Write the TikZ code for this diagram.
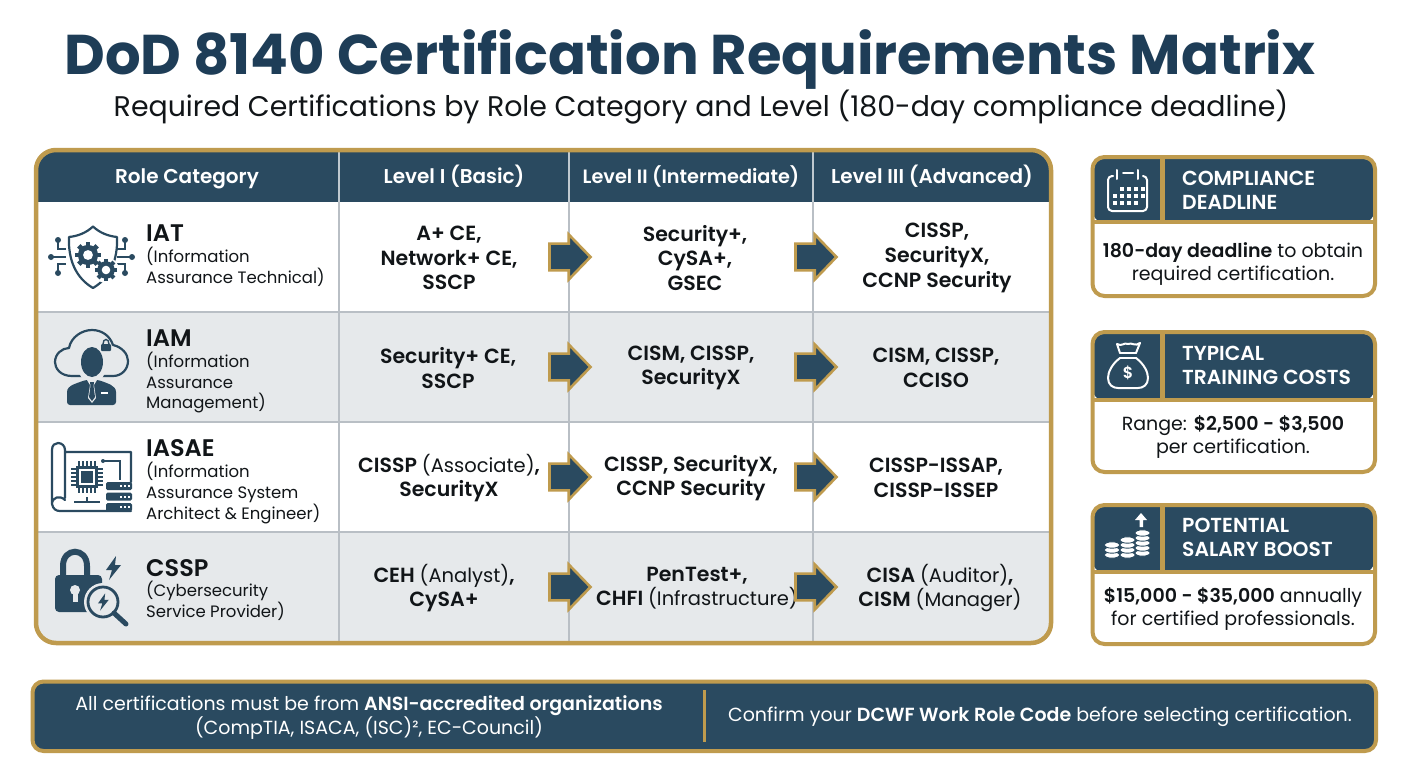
\documentclass[tikz,border=0pt]{standalone}
\usepackage{fontspec}
\setmainfont{Poppins}[BoldFont={Poppins SemiBold}]
\newfontfamily\titlefont{Poppins}
\usetikzlibrary{shapes.arrows,calc}
\definecolor{navy}{HTML}{2A4A60}
\definecolor{titlenavy}{HTML}{1E3D57}
\definecolor{gold}{HTML}{BF9B4E}
\definecolor{rowgrey}{HTML}{E6E9EB}
\definecolor{rule}{HTML}{B9BFC5}
\definecolor{ink}{HTML}{111518}
\tikzset{
  hdr/.style={text=white,anchor=center,inner sep=0pt},
  role/.style={anchor=north west,align=left,inner sep=0pt,text=ink,font=\fontsize{16.5}{20.8}\selectfont},
  cell/.style={align=center,inner sep=0pt,text=ink,font=\fontsize{20.5}{24.6}\selectfont\bfseries},
  flow/.style={single arrow,draw=gold,fill=navy,line width=2.6pt,minimum height=41pt,minimum width=45pt,single arrow head extend=9pt,single arrow tip angle=92,inner xsep=0pt,inner ysep=12pt},
  cardhead/.style={text=white,anchor=west,align=left,inner sep=0pt,font=\fontsize{20.3}{24}\selectfont\bfseries},
  cardbody/.style={align=center,inner sep=0pt,text=ink,font=\fontsize{19}{23.4}\selectfont},
  barText/.style={align=center,inner sep=0pt,text=white,font=\fontsize{19}{24}\selectfont},
  ic/.style={draw=navy,line width=2.2pt,line cap=round,line join=round},
  icw/.style={draw=white,line width=2pt,line cap=round,line join=round}
}
\newcommand\rolehead[1]{{\fontsize{24}{24}\selectfont\bfseries #1}}
\newcommand\lt[1]{{\mdseries\fontsize{19.5}{24.6}\selectfont #1}}
\newcommand\mygear[3]{%x,y,r
  \foreach \a in {0,45,...,315}{\draw[navy,line width=#3*0.42pt] ($(#1,#2)+(\a:#3*1.18pt)$) -- ($(#1,#2)+(\a:#3*0.7pt)$);}
  \fill[navy] (#1,#2) circle[radius=#3*0.92pt];
  \fill[white] (#1,#2) circle[radius=#3*0.45pt];}
\newcommand\mybolt[3]{%x,y,color
  \fill[#3] (#1+3,#2-12) -- (#1-7,#2+2) -- (#1-1,#2+2) -- (#1-4,#2+12) -- (#1+8,#2-3) -- (#1+2,#2-3) -- cycle;}
\newcommand\mycard[4]{%name,top,bottom,headbottom
  \fill[navy,rounded corners=10pt] (1093,#2+2) rectangle (1374,#4);
  \fill[gold] (1093,#4-2) rectangle (1374,#4+2);
  \fill[gold] (1160,#2) rectangle (1165,#4);
  \draw[gold,line width=4pt,rounded corners=12pt] (1092.5,#2) rectangle (1375,#3);
}
\newcommand\mycoins[2]{%x,list of y from bottom to top
  \foreach \y in {#2}{\fill[white,draw=navy,line width=0.9pt] (#1,\y) ellipse[x radius=7.6pt,y radius=3.2pt];}
}
\begin{document}
\begin{tikzpicture}[x=1pt,y=-1pt]
\useasboundingbox (0,0) rectangle (1408,768);
\fill[white] (0,0) rectangle (1408,768);
% title
\node[inner sep=0pt,text=titlenavy,font=\titlefont\fontsize{56}{60}\selectfont\bfseries] (title) at (690,59.5) {DoD 8140 Certification Requirements Matrix};
\node[inner sep=0pt,text=ink,font=\fontsize{28.4}{32}\selectfont] (subtitle) at (701,107) {Required Certifications by Role Category and Level (180-day compliance deadline)};
% table background
\begin{scope}
\clip[rounded corners=20pt] (36,150) rectangle (1051,643);
\fill[navy] (36,150) rectangle (1051,202);
\fill[white] (36,202) rectangle (1051,312);
\fill[rowgrey] (36,312) rectangle (1051,422);
\fill[white] (36,422) rectangle (1051,532);
\fill[rowgrey] (36,532) rectangle (1051,643);
\foreach \y in {312,422,532}{\draw[rule,line width=2pt] (36,\y) -- (1051,\y);}
\foreach \x in {339,569,813}{\draw[rule,line width=2pt] (\x,202) -- (\x,643); \draw[white!70!navy,line width=1.5pt] (\x,150) -- (\x,202);}
\end{scope}
\draw[gold,line width=4.5pt,rounded corners=20pt] (36,150) rectangle (1051,643);
% header
\node[hdr,font=\fontsize{20}{22}\selectfont\bfseries] (h0) at (187,179) {Role Category};
\node[hdr,font=\fontsize{20}{22}\selectfont\bfseries] (h1) at (454,176.5) {Level I (Basic)};
\node[hdr,font=\fontsize{19.3}{22}\selectfont\bfseries] (h2) at (691,176.5) {Level II (Intermediate)};
\node[hdr,font=\fontsize{20}{22}\selectfont\bfseries] (h3) at (932,176.5) {Level III (Advanced)};
% role labels
\node[role] (r1) at (146,224.5) {\rolehead{IAT}\\(Information\\Assurance Technical)};
\node[role] (r2) at (146,329.5) {\rolehead{IAM}\\(Information\\Assurance\\Management)};
\node[role] (r3) at (146,439.5) {\rolehead{IASAE}\\(Information\\Assurance System\\Architect \& Engineer)};
\node[role] (r4) at (146,559) {\rolehead{CSSP}\\(Cybersecurity\\Service Provider)};
% cells
\node[cell] (c11) at (449,258) {A+ CE,\\Network+ CE,\\SSCP};
\node[cell] (c12) at (695,258) {Security+,\\CySA+,\\GSEC};
\node[cell] (c13) at (937,258) {CISSP,\\SecurityX,\\CCNP Security};
\node[cell] (c21) at (448,368) {Security+ CE,\\SSCP};
\node[cell] (c22) at (691,368) {CISM, CISSP,\\SecurityX};
\node[cell] (c23) at (936,368) {CISM, CISSP,\\CCISO};
\node[cell] (c31) at (449,478) {CISSP \lt{(Associate)},\\SecurityX};
\node[cell] (c32) at (691,478) {CISSP, SecurityX,\\CCNP Security};
\node[cell] (c33) at (936,478) {CISSP-ISSAP,\\CISSP-ISSEP};
\node[cell] (c41) at (444,588) {CEH \lt{(Analyst)},\\CySA+};
\node[cell] (c42) at (697,588) {PenTest+,\\CHFI \lt{(Infrastructure)}};
\node[cell] (c43) at (940,588) {CISA \lt{(Auditor)},\\CISM \lt{(Manager)}};
% arrows
\foreach \r/\y in {1/257,2/367,3/477,4/587}{
  \node[flow] (a\r a) at (563.5,\y) {};
  \node[flow] (a\r b) at (809.5,\y) {};
}
% IAT icon
\draw[ic] (93,226.5) .. controls (100,233) and (108,236) .. (117,237) .. controls (118,260) and (110,278) .. (93,288) .. controls (76,278) and (68,260) .. (69,237) .. controls (78,236) and (86,233) .. cycle;
\foreach \p/\q in {58/240,125/240,58/273,125/273}{\fill[navy] (\p,\q) circle[radius=3pt];}
\draw[navy,line width=1.8pt] (58,240) -- (58,249) -- (66,249);
\draw[navy,line width=1.8pt] (125,240) -- (125,249) -- (117,249);
\draw[navy,line width=1.8pt] (58,273) -- (58,264) -- (66,264);
\draw[navy,line width=1.8pt] (125,273) -- (125,264) -- (117,264);
\fill[navy] (51,257) circle[radius=3pt]; \fill[navy] (132,257) circle[radius=3pt];
\draw[navy,line width=1.8pt] (51,257) -- (66,257); \draw[navy,line width=1.8pt] (117,257) -- (132,257);
\fill[white] (106,270) circle[radius=13pt];
\mygear{88}{255}{11}
\mygear{106}{270}{9.5}
% IAM icon
\draw[ic] (72,376) .. controls (60,376) and (55,368) .. (55,362) .. controls (55,354) and (62,348) .. (69,348) .. controls (71,337) and (82,330) .. (92,330) .. controls (102,330) and (110,336) .. (113,345) .. controls (122,347) and (128,354) .. (128,361) .. controls (128,369) and (122,376) .. (113,376) -- cycle;
\fill[rowgrey] (92,363) ellipse[x radius=15pt,y radius=20pt];
\fill[rowgrey] (62,378) rectangle (122,408);
\fill[navy] (92,362) ellipse[x radius=11pt,y radius=15pt];
\fill[navy,rounded corners=3pt] (67,405) -- (67,395) .. controls (67,385) and (78,383) .. (85,380) -- (99,380) .. controls (106,383) and (116,385) .. (116,395) -- (116,405) -- cycle;
\fill[rowgrey] (87,380) -- (97,380) -- (94,385) -- (96,398) -- (92,403) -- (88,398) -- (90,385) -- cycle;
\fill[navy] (90,382) -- (94,382) -- (93.5,386) -- (95,397) -- (92,401) -- (89,397) -- (90.5,386) -- cycle;
\fill[white] (101,392) rectangle (108,394);
\fill[navy,rounded corners=1pt] (101,344) rectangle (111,351);
\draw[navy,line width=1.4pt] (103,344) .. controls (103,338) and (109,338) .. (109,344);
% IASAE icon
\draw[ic] (52,504) -- (52,450) .. controls (52,445) and (55,443) .. (58,443) .. controls (62,443) and (65,446) .. (65,450) -- (65,498) (52,504) .. controls (52,497) and (60,495) .. (65,500) (65,452) -- (131,452) -- (131,482) (52,504) .. controls (53,509) and (56,511) .. (60,511) -- (131,511);
\fill[navy] (76,466) rectangle (98,488);
\fill[white] (79,469) rectangle (95,485);
\fill[navy] (81,471) rectangle (93,483);
\foreach \t in {0,4,8,12,16}{
  \draw[navy,line width=1.3pt] (79+\t,461) -- (79+\t,466) (79+\t,488) -- (79+\t,493) (71,469+\t) -- (76,469+\t) (98,469+\t) -- (103,469+\t);
}
\draw[navy,line width=1.6pt] (103,461) -- (120,461) -- (120,480);
\fill[navy] (103,461) circle[radius=2pt];
\draw[navy,line width=1.6pt] (74,502) -- (100,502) (87,497) -- (87,502);
\foreach \y in {482,492.5,503}{
  \fill[navy,rounded corners=1.5pt] (106,\y) rectangle (132,\y+8);
  \fill[white] (120,\y+3) rectangle (122,\y+5);
  \fill[white] (124,\y+3) rectangle (126,\y+5);
  \fill[white] (128,\y+3) rectangle (130,\y+5);
}
% CSSP icon
\draw[navy,line width=6pt] (63,577) -- (63,566) .. controls (63,547) and (87,547) .. (87,566) -- (87,577);
\fill[navy,rounded corners=4pt] (55,575) rectangle (102,612);
\fill[rowgrey] (75,590) circle[radius=5pt];
\fill[rowgrey] (72.5,590) rectangle (77.5,602);
\mybolt{113}{568}{navy}
\fill[rowgrey] (103,602) circle[radius=19pt];
\draw[navy,line width=2.8pt] (103,602) circle[radius=15pt];
\draw[navy,line width=5pt,line cap=round] (114,613) -- (126,624);
\begin{scope}[shift={(103,602)},scale=0.72]
\fill[navy] (3,-12) -- (-7,2) -- (-1,2) -- (-4,12) -- (8,-3) -- (2,-3) -- cycle;
\end{scope}
% cards
\mycard{k1}{157}{296}{222}
\mycard{k2}{332}{472}{400}
\mycard{k3}{505}{644}{572}
\node[cardhead] (k1t) at (1182,190) {COMPLIANCE\\DEADLINE};
\node[cardhead] (k2t) at (1182,365) {TYPICAL\\TRAINING COSTS};
\node[cardhead] (k3t) at (1182,537) {POTENTIAL\\SALARY BOOST};
\node[cardbody] (k1b) at (1233,264) {\textbf{180-day deadline} to obtain\\required certification.};
\node[cardbody] (k2b) at (1233,437) {Range: \textbf{\$2,500 - \$3,500}\\per certification.};
\node[cardbody] (k3b) at (1233,609) {\textbf{\$15,000 - \$35,000} annually\\for certified professionals.};
% calendar
\draw[icw,rounded corners=4pt] (1113,176) -- (1108,176) -- (1108,211) -- (1147,211) -- (1147,176) -- (1143,176);
\draw[icw] (1123,173) -- (1133,173) (1117,170) -- (1117,179) (1138,170) -- (1138,179);
\foreach \x/\y in {1122/189,1129/189,1136/189,1143/189,1115/196,1122/196,1129/196,1136/196,1143/196,1115/203,1122/203,1129/203,1136/203}{\fill[white] (\x-1.8,\y-1.8) rectangle (\x+1.8,\y+1.8);}
% money bag
\draw[icw] (1120,358) .. controls (1112,364) and (1108,372) .. (1108,378) .. controls (1108,385) and (1113,388) .. (1118,388) -- (1138,388) .. controls (1143,388) and (1148,385) .. (1148,378) .. controls (1148,372) and (1144,364) .. (1136,358);
\draw[icw] (1120,358) -- (1136,358) (1120,353) -- (1136,353);
\draw[icw] (1120,353) -- (1117,344) .. controls (1122,347) and (1124,342) .. (1128,344) .. controls (1132,342) and (1135,347) .. (1140,343) -- (1136,353);
\node[inner sep=0pt,text=white,font=\fontsize{16}{18}\selectfont\bfseries] (bagd) at (1128,373) {\$};
% coins
\mycoins{1112}{555,550,545}
\mycoins{1127.5}{555,550,545,540}
\mycoins{1142.5}{553,548,543,538,533}
\fill[white] (1139.5,527) rectangle (1143,520) (1135,520) -- (1141,513) -- (1147,520) -- cycle;
% bottom bar
\draw[gold,fill=navy,line width=4pt,rounded corners=11pt] (32.5,681.5) rectangle (1376,751);
\draw[gold,line width=3pt] (704,690) -- (704,742);
\node[barText] (b1) at (369,717.5) {All certifications must be from \textbf{ANSI-accredited organizations}\\(CompTIA, ISACA, (ISC)², EC-Council)};
\node[barText] (b2) at (1040,717) {Confirm your \textbf{DCWF Work Role Code} before selecting certification.};
\end{tikzpicture}
\end{document}
